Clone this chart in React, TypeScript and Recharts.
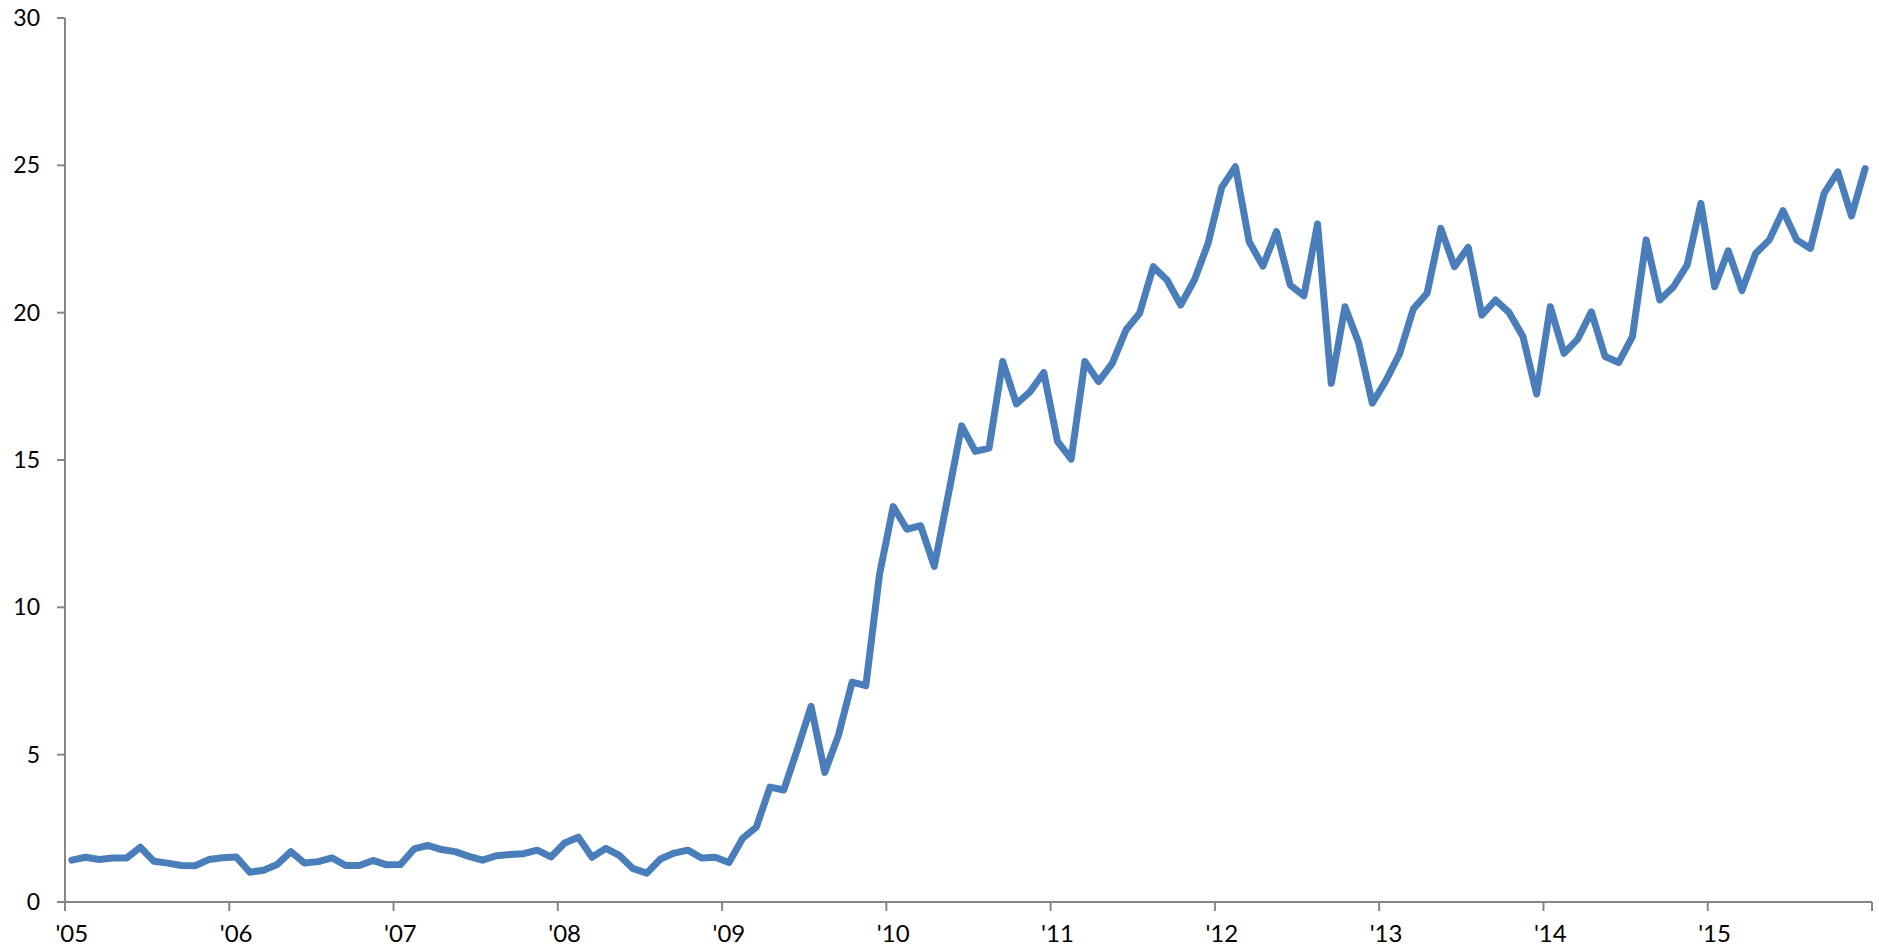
import React from "react";
import { LineChart, Line, XAxis, YAxis } from "recharts";

// Tick labels (one per year, placed on the January point)
const yearLabels = ["'05", "'06", "'07", "'08", "'09", "'10", "'11", "'12", "'13", "'14", "'15"];
const yTicks = [0, 5, 10, 15, 20, 25, 30];

// Monthly values, one array per year
const v2005 = [1.42, 1.52, 1.44, 1.49, 1.49, 1.86, 1.38, 1.32, 1.24, 1.23, 1.44, 1.5];
const v2006 = [1.53, 1.01, 1.08, 1.27, 1.71, 1.32, 1.37, 1.5, 1.24, 1.24, 1.41, 1.26];
const v2007 = [1.27, 1.8, 1.92, 1.78, 1.71, 1.55, 1.42, 1.57, 1.61, 1.64, 1.76, 1.53];
const v2008 = [2.0, 2.2, 1.52, 1.82, 1.58, 1.13, 0.98, 1.46, 1.66, 1.76, 1.49, 1.52];
const v2009 = [1.34, 2.16, 2.54, 3.9, 3.8, 5.18, 6.64, 4.4, 5.66, 7.46, 7.34, 11.12];
const v2010 = [13.42, 12.65, 12.77, 11.39, 13.76, 16.16, 15.29, 15.4, 18.34, 16.9, 17.32, 17.97];
const v2011 = [15.63, 15.03, 18.34, 17.66, 18.28, 19.41, 19.98, 21.56, 21.11, 20.26, 21.11, 22.35];
const v2012 = [24.25, 24.95, 22.41, 21.58, 22.75, 20.94, 20.57, 23.01, 17.6, 20.2, 18.98, 16.93];
const v2013 = [17.7, 18.62, 20.13, 20.66, 22.86, 21.56, 22.22, 19.92, 20.43, 20.0, 19.19, 17.24];
const v2014 = [20.2, 18.62, 19.1, 20.03, 18.51, 18.31, 19.19, 22.47, 20.43, 20.88, 21.62, 23.71];
const v2015 = [20.88, 22.1, 20.75, 22.01, 22.47, 23.46, 22.47, 22.18, 24.05, 24.78, 23.28, 24.89];

const yearValues = [v2005, v2006, v2007, v2008, v2009, v2010, v2011, v2012, v2013, v2014, v2015];
const values = yearValues.flat();
const data = values.map((v, i) => ({ x: i + 0.5, v }));
const monthCount = values.length;
const xTicks = yearLabels.map((_, k) => k * 12).concat([monthCount]);

const W = 1879;
const H = 952;
const MARGIN = { top: 18, right: 7, bottom: 0, left: 0 };
const YAXIS_W = 65;
const XAXIS_H = 50;
const HALF_MONTH = (W - YAXIS_W - MARGIN.right) / monthCount / 2;

const FONT = "Lato, 'Open Sans', sans-serif";
const AXIS_COLOR = "#868686";

function XTick(props: any) {
  const { x, y, payload } = props;
  const idx = Math.round(payload.value / 12);
  if (idx >= yearLabels.length) return <g />;
  return (
    <text
      x={x + HALF_MONTH}
      y={y}
      dy="0.71em"
      textAnchor="middle"
      fill="#000"
      fontSize={24}
      fontFamily={FONT}
    >
      {yearLabels[idx]}
    </text>
  );
}

export default function App() {
  return (
    <div style={{ position: "absolute", left: 0, top: 0, width: W, height: H, background: "#fff" }}>
      <LineChart width={W} height={H} data={data} margin={MARGIN}>
        <XAxis
          type="number"
          dataKey="x"
          domain={[0, monthCount]}
          ticks={xTicks}
          interval={0}
          height={XAXIS_H}
          tick={<XTick />}
          tickSize={9}
          tickMargin={14}
          axisLine={{ stroke: AXIS_COLOR, strokeWidth: 2 }}
          tickLine={{ stroke: AXIS_COLOR, strokeWidth: 2 }}
        />
        <YAxis
          type="number"
          domain={[0, 30]}
          ticks={yTicks}
          interval={0}
          width={YAXIS_W}
          tickSize={8}
          tickMargin={17}
          tick={{ fill: "#000", fontSize: 23, fontFamily: FONT }}
          axisLine={{ stroke: AXIS_COLOR, strokeWidth: 2 }}
          tickLine={{ stroke: AXIS_COLOR, strokeWidth: 2 }}
        />
        <Line
          type="linear"
          dataKey="v"
          stroke="#4A7EBB"
          strokeWidth={7}
          strokeLinejoin="round"
          strokeLinecap="round"
          dot={false}
          activeDot={false}
          isAnimationActive={false}
        />
      </LineChart>
    </div>
  );
}
